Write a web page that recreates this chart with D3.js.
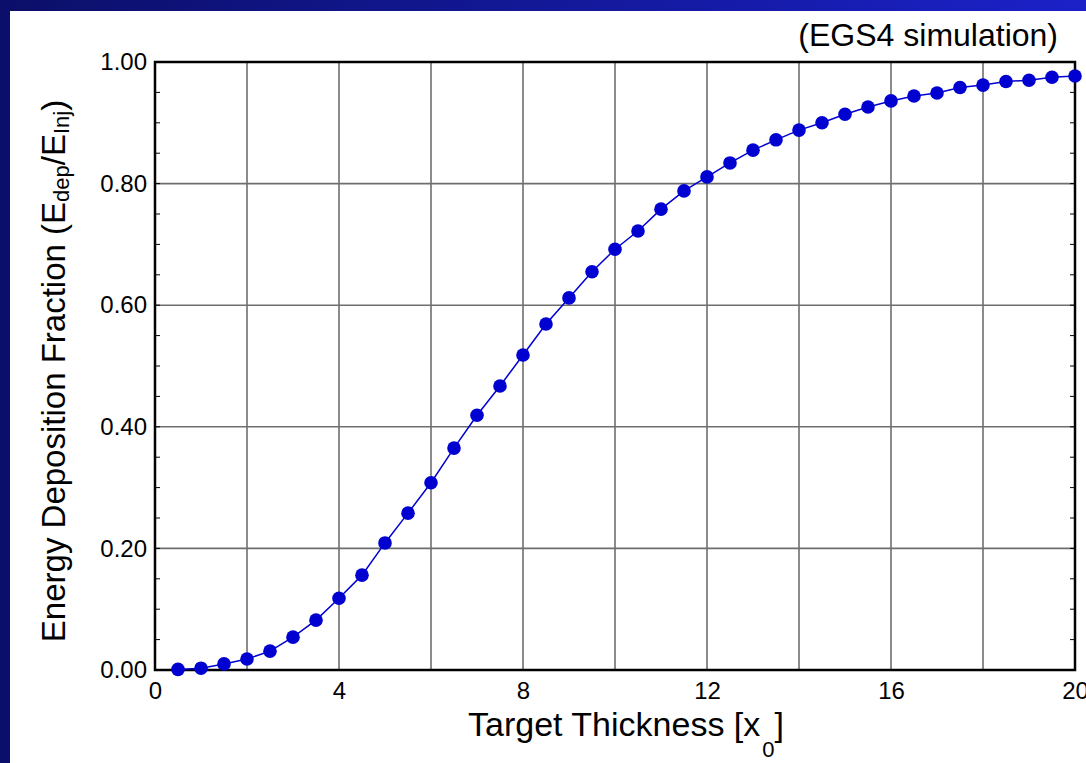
<!DOCTYPE html>
<html>
<head>
<meta charset="utf-8">
<script src="https://cdn.jsdelivr.net/npm/d3@7"></script>
<style>
  body { margin: 0; background: #fff; }
  text { font-family: "Liberation Sans", Arial, sans-serif; fill: #000; }
</style>
</head>
<body>
<div id="chart"></div>
<script>
// EGS4 energy deposition vs target thickness
const thickness = [0.5, 1, 1.5, 2, 2.5, 3, 3.5, 4, 4.5, 5, 5.5, 6, 6.5, 7, 7.5, 8, 8.5, 9, 9.5, 10,
  10.5, 11, 11.5, 12, 12.5, 13, 13.5, 14, 14.5, 15, 15.5, 16, 16.5, 17, 17.5, 18, 18.5, 19, 19.5, 20];
const fraction = [0.001, 0.003, 0.010, 0.018, 0.031, 0.054, 0.082, 0.118, 0.156, 0.209,
  0.258, 0.308, 0.365, 0.419, 0.467, 0.518, 0.569, 0.612, 0.655, 0.692,
  0.722, 0.758, 0.788, 0.811, 0.834, 0.855, 0.872, 0.888, 0.900, 0.914,
  0.926, 0.936, 0.944, 0.949, 0.958, 0.962, 0.968, 0.970, 0.975, 0.977];
const xTicks = [0, 4, 8, 12, 16, 20];
const xGrid = [2, 4, 6, 8, 10, 12, 14, 16, 18];
const yTicks = [0, 0.2, 0.4, 0.6, 0.8, 1.0];
const yMinor = d3.range(0, 1.0001, 0.05);

const W = 1086, H = 763;
const plot = { left: 155, right: 1075, top: 62, bottom: 670 };

const svg = d3.select('#chart').append('svg')
  .attr('width', W)
  .attr('height', H);

// blue slide frame
const grad = svg.append('defs').append('linearGradient')
  .attr('id', 'bar')
  .attr('x1', '0%').attr('x2', '100%');
grad.append('stop').attr('offset', '0%').attr('stop-color', '#0b0f68');
grad.append('stop').attr('offset', '100%').attr('stop-color', '#1b21c8');

svg.append('rect').attr('x', 0).attr('y', 0).attr('width', W).attr('height', 11).attr('fill', 'url(#bar)');
svg.append('rect').attr('x', 0).attr('y', 0).attr('width', 10).attr('height', H).attr('fill', '#0b0f6b');

const x = d3.scaleLinear().domain([0, 20]).range([plot.left, plot.right]);
const y = d3.scaleLinear().domain([0, 1]).range([plot.bottom, plot.top]);

// grid
const g = svg.append('g');
g.selectAll('.vgrid').data(xGrid).join('line')
  .attr('x1', d => x(d)).attr('x2', d => x(d))
  .attr('y1', plot.top).attr('y2', plot.bottom)
  .attr('stroke', '#6e6e6e').attr('stroke-width', 1.6);
g.selectAll('.hgrid').data(yTicks.slice(1, -1)).join('line')
  .attr('x1', plot.left).attr('x2', plot.right)
  .attr('y1', d => y(d)).attr('y2', d => y(d))
  .attr('stroke', '#6e6e6e').attr('stroke-width', 1.6);

// minor ticks on left/right, inward
g.selectAll('.lt').data(yMinor).join('line')
  .attr('x1', plot.left).attr('x2', plot.left + 5)
  .attr('y1', d => y(d)).attr('y2', d => y(d))
  .attr('stroke', '#000').attr('stroke-width', 1);
g.selectAll('.rt').data(yMinor).join('line')
  .attr('x1', plot.right - 5).attr('x2', plot.right)
  .attr('y1', d => y(d)).attr('y2', d => y(d))
  .attr('stroke', '#000').attr('stroke-width', 1);

// frame
svg.append('rect')
  .attr('x', plot.left).attr('y', plot.top)
  .attr('width', plot.right - plot.left).attr('height', plot.bottom - plot.top)
  .attr('fill', 'none').attr('stroke', '#000').attr('stroke-width', 2.5);

// axes labels
const yAxis = d3.axisLeft(y).tickValues(yTicks).tickFormat(d3.format('.2f')).tickSize(0).tickPadding(8);
svg.append('g')
  .attr('transform', 'translate(' + plot.left + ',0)')
  .call(yAxis)
  .call(s => s.select('.domain').remove())
  .selectAll('text')
  .style('font-family', '"Liberation Sans", Arial, sans-serif')
  .style('font-size', '24px')
  .attr('fill', '#000');

const xAxis = d3.axisBottom(x).tickValues(xTicks).tickFormat(d3.format('d')).tickSize(0).tickPadding(12);
svg.append('g')
  .attr('transform', 'translate(0,' + plot.bottom + ')')
  .call(xAxis)
  .call(s => s.select('.domain').remove())
  .selectAll('text')
  .style('font-family', '"Liberation Sans", Arial, sans-serif')
  .style('font-size', '24px')
  .attr('fill', '#000');

// series
const pts = thickness.map((t, i) => [t, fraction[i]]);
svg.append('path')
  .datum(pts)
  .attr('d', d3.line().x(d => x(d[0])).y(d => y(d[1])))
  .attr('fill', 'none')
  .attr('stroke', '#0000d0')
  .attr('stroke-width', 1.5);
svg.selectAll('.dot').data(pts).join('circle')
  .attr('cx', d => x(d[0]))
  .attr('cy', d => y(d[1]))
  .attr('r', 6.8)
  .attr('fill', '#0000d0');

// titles
svg.append('text')
  .attr('x', 1058).attr('y', 46)
  .attr('text-anchor', 'end')
  .style('font-size', '32px')
  .text('(EGS4 simulation)');

const xl = svg.append('text')
  .attr('x', 626).attr('y', 736)
  .attr('text-anchor', 'middle')
  .style('font-size', '34px');
xl.append('tspan').text('Target Thickness [x');
xl.append('tspan').attr('dx', 2).attr('dy', 21).style('font-size', '22px').text('0');
xl.append('tspan').attr('dy', -21).text(']');

const yl = svg.append('text')
  .attr('transform', 'translate(65,371) rotate(-90)')
  .attr('text-anchor', 'middle')
  .style('font-size', '33px');
yl.append('tspan').text('Energy Deposition Fraction (E');
yl.append('tspan').attr('dy', 4).style('font-size', '22px').text('dep');
yl.append('tspan').attr('dy', -4).text('/E');
yl.append('tspan').attr('dy', 4).style('font-size', '22px').text('Inj');
yl.append('tspan').attr('dy', -4).text(')');
</script>
</body>
</html>
